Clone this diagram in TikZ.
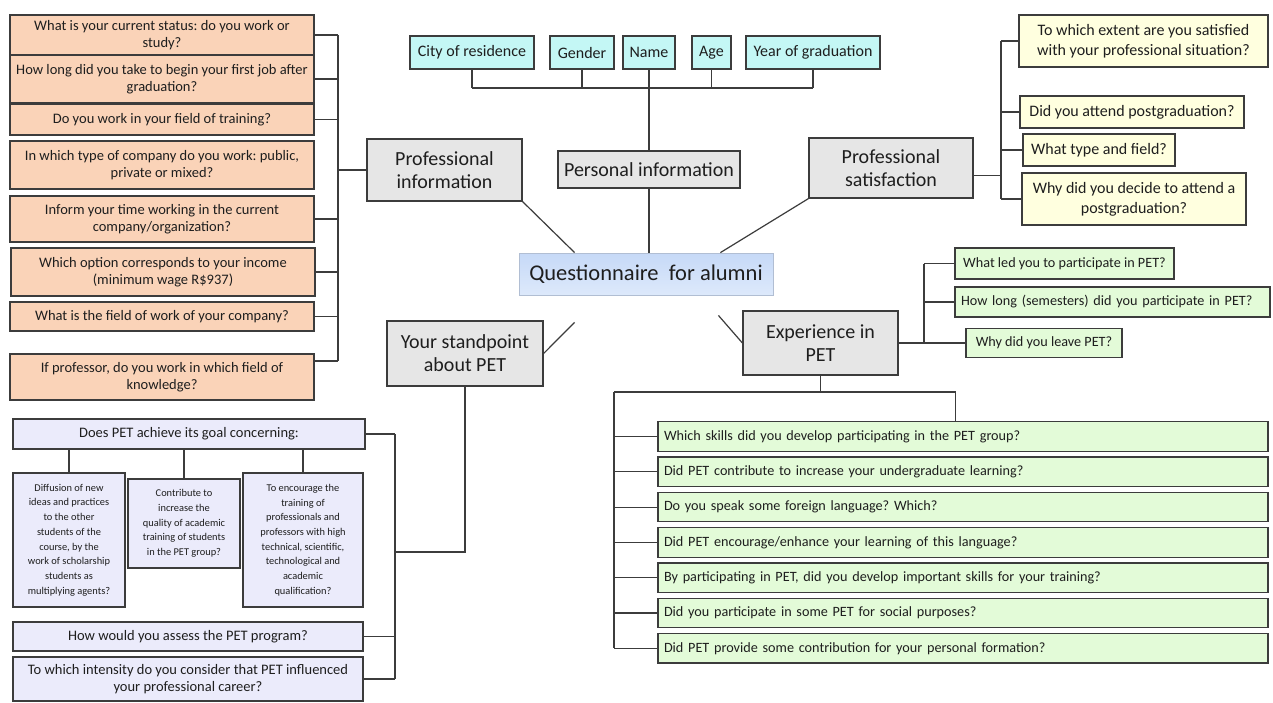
\documentclass[tikz,border=0pt]{standalone}
\usepackage{fontspec}
\setmainfont{Carlito}
\usepackage{tikz}
\usetikzlibrary{calc}
\frenchspacing
\definecolor{peach}{HTML}{FAD3B8}
\definecolor{aqua}{HTML}{C4F7F5}
\definecolor{cream}{HTML}{FFFFDF}
\definecolor{mint}{HTML}{E3FBD8}
\definecolor{lilac}{HTML}{EBEBFB}
\definecolor{greybox}{HTML}{E6E6E6}
\definecolor{bluetop}{HTML}{C6D9F7}
\definecolor{bluebot}{HTML}{DDE9FB}
\definecolor{edge}{HTML}{3C3C3C}
\definecolor{ink}{HTML}{1E1E1E}
\tikzstyle{ln} = [draw=edge, line width=1.2pt]
\tikzstyle{bx} = [draw=edge, line width=1.2pt, inner sep=0pt, align=center, text=ink]
\tikzstyle{ob} = [bx, fill=peach, minimum width=304pt, font=\fontsize{14.5}{17.5}\selectfont]
\tikzstyle{cb} = [bx, fill=aqua, minimum height=33pt, font=\fontsize{16}{18}\selectfont]
\tikzstyle{mb} = [bx, fill=greybox, font=\fontsize{20}{23}\selectfont]
\tikzstyle{yb} = [bx, fill=cream, font=\fontsize{16}{20}\selectfont]
\tikzstyle{gb} = [bx, fill=mint, font=\fontsize{14.2}{16}\selectfont]
\tikzstyle{lb} = [bx, fill=lilac, minimum width=350pt, font=\fontsize{14.5}{17.5}\selectfont]
\tikzstyle{sb} = [bx, fill=lilac, font=\fontsize{10.4}{14.7}\selectfont]

\begin{document}
\begin{tikzpicture}[yscale=-1]
			\fill[white] (0pt,0pt) rectangle (1273pt,702pt);
			\useasboundingbox (0pt,0pt) rectangle (1273pt,702pt);
			\node[ob, minimum height=40pt] (o1) at (162pt,35pt) {What is your current status: do you work or\\study?};
			\node[ob, minimum height=48pt] (o2) at (162pt,79pt) {How long did you take to begin your first job after\\graduation?};
			\node[ob, minimum height=31pt] (o3) at (162pt,119.5pt) {Do you work in your field of training?};
			\node[ob, minimum height=48pt] (o4) at (162pt,165pt) {In which type of company do you work: public,\\private or mixed?};
			\node[ob, minimum height=46pt] (o5) at (162pt,219pt) {Inform your time working in the current\\company/organization?};
			\node[ob, minimum height=48pt] (o6) at (163pt,272pt) {Which option corresponds to your income\\(minimum wage R\$937)};
			\node[ob, minimum height=29pt] (o7) at (162pt,316.5pt) {What is the field of work of your company?};
			\node[ob, minimum height=46pt] (o8) at (162pt,377pt) {If professor, do you work in which field of\\knowledge?};
			\node[mb, minimum width=155pt, minimum height=62pt] (pinfo) at (444.5pt,170pt) {Professional\\information};
			\coordinate (lbr) at (338pt,0pt);
			\foreach \n in {o1,o2,o3,o5,o6,o7} \draw[ln] (\n.east) -- (\n.east -| lbr);
			\draw[ln] (o8.6) -- (o8.6 -| lbr);
			\draw[ln] (o1.east -| lbr) -- (o8.6 -| lbr);
			\draw[ln] (pinfo.west) -- (pinfo.west -| lbr);
			\node[cb, minimum width=124pt] (city) at (472pt,52.5pt) {City of residence};
			\node[cb, minimum width=64pt] (gender) at (582pt,52.5pt) {Gender};
			\node[cb, minimum width=52pt] (name) at (649pt,52.5pt) {Name};
			\node[cb, minimum width=39pt] (age) at (711.5pt,52.5pt) {Age};
			\node[cb, minimum width=134pt] (year) at (813pt,52.5pt) {Year of graduation};
			\node[mb, minimum width=182pt, minimum height=37pt] (persinfo) at (649pt,169.5pt) {Personal information};
			\coordinate (tb) at (0pt,88pt);
			\foreach \n in {city,gender,name,age,year} \draw[ln] (\n.south) -- (\n.south |- tb);
			\draw[ln] (city.south |- tb) -- (year.south |- tb);
			\draw[ln] (name.south |- tb) -- (persinfo.north);
			\node[bx, top color=bluetop, bottom color=bluebot, draw=bluetop!70!gray, line width=0.8pt, minimum width=254pt, minimum height=42pt, font=\fontsize{22.5}{26}\selectfont] (quest) at (646pt,274pt) {Questionnaire\ \ for alumni};
			\draw[ln] (persinfo.south) -- (persinfo.south |- quest.north);
			\draw[ln] (pinfo.south east) -- ($(quest.north west)+(56pt,0pt)$);
			\node[mb, minimum width=164pt, minimum height=60pt] (profsat) at (891pt,168pt) {Professional\\satisfaction};
			\draw[ln] (profsat.south west) -- ($(quest.north east)+(-53pt,0pt)$);
			\node[yb, minimum width=249pt, minimum height=52pt] (y1) at (1143.5pt,41pt) {To which extent are you satisfied\\with your professional situation?};
			\node[yb, minimum width=224pt, minimum height=32pt] (y2) at (1132pt,112pt) {Did you attend postgraduation?};
			\node[yb, minimum width=152pt, minimum height=32pt] (y3) at (1099pt,150pt) {What type and field?};
			\node[yb, minimum width=224pt, minimum height=52pt] (y4) at (1134pt,199pt) {Why did you decide to attend a\\postgraduation?};
			\coordinate (rbr) at (1001pt,0pt);
			\foreach \n in {y1,y2,y3,y4} \draw[ln] (\n.west) -- (\n.west -| rbr);
			\draw[ln] (y1.west -| rbr) -- (y4.west -| rbr);
			\draw[ln] (profsat.-5) -- (profsat.-5 -| rbr);
			\node[mb, minimum width=156pt, minimum height=65pt] (stand) at (465pt,353.5pt) {Your standpoint\\about PET};
			\node[mb, minimum width=155pt, minimum height=64pt] (exper) at (820.5pt,343pt) {Experience in\\PET};
			\coordinate (qa) at ($(quest.south west)+(56pt,27pt)$);
			\coordinate (qb) at ($(quest.south east)+(-55pt,20pt)$);
			\draw[ln] (qa) -- (stand.east);
			\draw[ln] (qb) -- (exper.west);
			\node[gb, minimum width=219pt, minimum height=31pt] (g1) at (1064.5pt,263.5pt) {What led you to participate in PET?};
			\node[gb, align=left, text width=303pt, inner xsep=6pt, minimum height=30pt] (g2) at (1112.5pt,302pt) {How long (semesters) did you participate in PET?};
			\node[gb, minimum width=156pt, minimum height=29pt] (g3) at (1044pt,343pt) {Why did you leave PET?};
			\coordinate (ebr) at (924pt,0pt);
			\foreach \n in {g1,g2} \draw[ln] (\n.west) -- (\n.west -| ebr);
			\draw[ln] (exper.east) -- (exper.east -| g3.west);
			\draw[ln] (g1.west -| ebr) -- (exper.east -| ebr);
			\foreach \t [count=\i] in {Which skills did you develop participating in the PET group?,
				Did PET contribute to increase your undergraduate learning?,
				Do you speak some foreign language? Which?,
				Did PET encourage/enhance your learning of this language?,
				{By participating in PET, did you develop important skills for your training?},
				Did you participate in some PET for social purposes?,
				Did PET provide some contribution for your personal formation?}
				\node[gb, align=left, text width=598pt, inner xsep=6pt, minimum height=29.5pt] (h\i) at (963pt,{401.2pt+35.3pt*\i}) {\t};
			\coordinate (hb) at (0pt,392pt);
			\coordinate (hl) at (614pt,0pt);
			\coordinate (hr) at ($(h1.north west)+(298pt,0pt)$);
			\draw[ln] (exper.south) -- (exper.south |- hb);
			\draw[ln] (hl |- hb) -| (hr);
			\draw[ln] (hl |- hb) -- (hl |- h7.west);
			\foreach \i in {1,...,7} \draw[ln] (h\i.west) -- (h\i.west -| hl);
			\node[lb, minimum width=352pt, minimum height=30pt] (l0) at (189pt,434pt) {Does PET achieve its goal concerning:};
			\node[sb, minimum width=112pt, minimum height=134pt] (l1) at (69pt,540pt) {Diffusion of new\\ideas and practices\\to the other\\students of the\\course, by the\\work of scholarship\\students as\\multiplying agents?};
			\node[sb, minimum width=112pt, minimum height=89pt] (l2) at (184pt,523.5pt) {Contribute to\\increase the\\quality of academic\\training of students\\in the PET group?};
			\node[sb, minimum width=120pt, minimum height=134pt] (l3) at (303pt,540pt) {To encourage the\\training of\\professionals and\\professors with high\\technical, scientific,\\technological and\\academic\\qualification?};
			\node[lb, minimum height=29pt] (l4) at (188pt,636.5pt) {How would you assess the PET program?};
			\node[lb, minimum height=44pt] (l5) at (188pt,679pt) {To which intensity do you consider that PET influenced\\your professional career?};
			\foreach \n in {l1,l2,l3} \draw[ln] (\n.north) -- (\n.north |- l0.south);
			\coordinate (sbr) at (395pt,0pt);
			\foreach \n in {l0,l4,l5} \draw[ln] (\n.east) -- (\n.east -| sbr);
			\draw[ln] (l0.east -| sbr) -- (l5.east -| sbr);
			\draw[ln] (stand.south) |- ($(sbr)+(0pt,552pt)$);
		\end{tikzpicture}
\end{document}
